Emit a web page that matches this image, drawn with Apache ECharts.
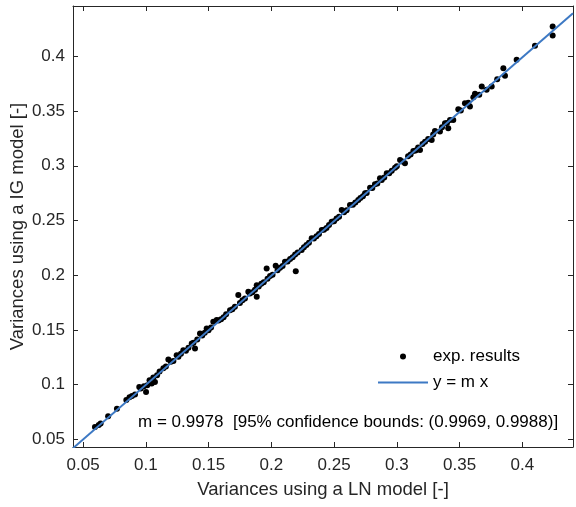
<!DOCTYPE html>
<html>
<head>
<meta charset="utf-8">
<script src="https://cdn.jsdelivr.net/npm/echarts@6/dist/echarts.min.js"></script>
<style>html,body{margin:0;padding:0;background:#fff;}#chart{width:576px;height:507px;}</style>
</head>
<body>
<div id="chart"></div>
<script>
// Measured points: x = LN-model variance, y = IG-model variance
const pointsX = [
 0.0595,0.0625,0.0640,0.0700,0.0770,0.0845,0.0870,0.0890,0.0914,0.0948,0.0960,0.0985,0.1002,0.1012,0.1030,0.1047,0.1060,0.1073,0.1090,
 0.1110,0.1140,0.1160,0.1180,0.1200,0.1220,0.1246,0.1260,0.1280,0.1299,0.1320,0.1340,0.1366,0.1380,0.1392,0.1410,0.1432,0.1450,0.1470,0.1485,0.1500,0.1520,0.1538,
 0.1565,0.1580,0.1600,0.1620,0.1640,0.1671,0.1690,0.1710,0.1737,0.1750,0.1770,0.1790,0.1817,0.1830,0.1850,0.1870,0.1884,0.1884,0.1900,0.1920,0.1940,0.1963,0.1970,0.1990,
 0.2010,0.2035,0.2050,0.2070,0.2090,0.2109,0.2130,0.2150,0.2170,0.2195,0.2190,0.2210,0.2242,0.2260,0.2280,0.2300,0.2322,0.2340,0.2360,0.2380,0.2402,0.2420,0.2440,0.2460,0.2481,0.2500,0.2520,0.2540,
 0.2561,0.2580,0.2600,0.2627,0.2650,0.2670,0.2693,0.2710,0.2730,0.2747,0.2760,0.2787,0.2805,0.2826,0.2845,0.2866,0.2880,0.2900,0.2920,0.2940,0.2960,0.2986,0.3000,0.3026,0.3045,0.3065,0.3090,0.3110,0.3132,0.3150,0.3170,0.3185,0.3205,0.3225,0.3250,0.3278,0.3290,0.3304,0.3344,0.3360,0.3384,0.3400,0.3410,0.3424,0.3450,
 0.3490,0.3510,0.3543,0.3570,0.3583,0.3610,0.3623,0.3657,0.3677,0.3716,0.3756,0.3800,0.3849,0.3862,0.3955,0.4101,0.4242,0.4242
];
const pointsY = [
 0.0613,0.0630,0.0645,0.0710,0.0780,0.0860,0.0885,0.0895,0.0910,0.0979,0.0965,0.0985,0.0933,0.0994,0.1040,0.1010,0.1065,0.1025,0.1085,
 0.1120,0.1150,0.1165,0.1230,0.1210,0.1215,0.1269,0.1255,0.1282,0.1315,0.1310,0.1338,0.1376,0.1383,0.1330,0.1412,0.1467,0.1448,0.1473,0.1513,0.1497,0.1523,0.1574,
 0.1590,0.1585,0.1597,0.1616,0.1643,0.1680,0.1688,0.1712,0.1818,0.1746,0.1772,0.1786,0.1848,0.1833,0.1845,0.1866,0.1802,0.1909,0.1897,0.1921,0.1936,0.2062,0.1967,0.1992,
 0.2005,0.2086,0.2046,0.2068,0.2085,0.2123,0.2126,0.2148,0.2163,0.2037,0.2188,0.2207,0.2230,0.2256,0.2275,0.2296,0.2337,0.2336,0.2355,0.2377,0.2413,0.2416,0.2432,0.2458,0.2489,0.2492,0.2518,0.2535,
 0.2596,0.2575,0.2594,0.2641,0.2643,0.2664,0.2687,0.2706,0.2722,0.2748,0.2752,0.2800,0.2797,0.2831,0.2838,0.2886,0.2870,0.2893,0.2931,0.2932,0.2954,0.2983,0.2995,0.3053,0.3038,0.3023,0.3086,0.3102,0.3135,0.3140,0.3166,0.3145,0.3198,0.3220,0.3244,0.3236,0.3285,0.3318,0.3312,0.3352,0.3389,0.3390,0.3343,0.3419,0.3419,
 0.3517,0.3505,0.3572,0.3577,0.3541,0.3627,0.3657,0.3648,0.3724,0.3694,0.3724,0.3790,0.3892,0.3822,0.3968,0.4096,0.4273,0.4190
];
const slopeM = 0.9978;
const xTicks = [0.05,0.1,0.15,0.2,0.25,0.3,0.35,0.4];
const yTicks = [0.05,0.1,0.15,0.2,0.25,0.3,0.35,0.4];
const xLimits = [0.042, 0.4404];
const yLimits = [0.043, 0.446];
const annotation = 'm = 0.9978  [95% confidence bounds: (0.9969, 0.9988)]';

const scatterData = pointsX.map((x,i)=>[x, pointsY[i]]);
const fitData = xLimits.map(x=>[x, slopeM*x]);

const axisCol = '#262626';
const lineCol = '#3d79c4';
const font = 'Liberation Sans, Arial, sans-serif';
const fmt = v => String(+v.toFixed(3));

function xAxisDef(pos, show){
  return {
    type:'value', position:pos, min:xLimits[0], max:xLimits[1],
    name: show ? 'Variances using a LN model [-]' : '',
    nameLocation:'middle', nameGap:33, nameMoveOverlap:false,
    nameTextStyle:{color:axisCol,fontSize:18.5,fontFamily:font},
    axisLine:{show:true,onZero:false,lineStyle:{color:axisCol,width:1}},
    axisTick:{show:true,inside:true,length:5,customValues:xTicks,lineStyle:{color:axisCol}},
    axisLabel:{show:show,customValues:xTicks,formatter:fmt,color:axisCol,fontSize:17,fontFamily:font,margin:10},
    splitLine:{show:false}
  };
}
function yAxisDef(pos, show){
  return {
    type:'value', position:pos, min:yLimits[0], max:yLimits[1],
    name: show ? 'Variances using a IG model [-]' : '',
    nameLocation:'middle', nameGap:46, nameMoveOverlap:false,
    nameTextStyle:{color:axisCol,fontSize:18.5,fontFamily:font},
    axisLine:{show:true,onZero:false,lineStyle:{color:axisCol,width:1}},
    axisTick:{show:true,inside:true,length:5,customValues:yTicks,lineStyle:{color:axisCol}},
    axisLabel:{show:show,customValues:yTicks,formatter:fmt,color:axisCol,fontSize:17,fontFamily:font,margin:8},
    splitLine:{show:false}
  };
}

const chart = echarts.init(document.getElementById('chart'), null, {renderer:'canvas'});
chart.setOption({
  animation:false,
  backgroundColor:'#ffffff',
  grid:{left:73,right:3,top:6,bottom:60,containLabel:false,outerBoundsMode:'none'},
  xAxis:[xAxisDef('bottom',true), xAxisDef('top',false)],
  yAxis:[yAxisDef('left',true), yAxisDef('right',false)],
  legend:{
    orient:'vertical', left:378, top:348, padding:0, itemWidth:50, itemHeight:6, itemGap:9,
    textStyle:{color:'#000',fontSize:17,fontFamily:font},
    data:[
      {name:'exp. results',icon:'circle'},
      {name:'y = m x',icon:'path://M0,0 L50,0 L50,2 L0,2 Z'}
    ]
  },
  graphic:[{
    type:'text', left:138, top:414,
    style:{text:annotation, fill:'#000', fontSize:17, fontFamily:font}
  }],
  series:[
    {name:'exp. results', type:'scatter', data:scatterData, symbol:'circle', symbolSize:6,
     itemStyle:{color:'#000',opacity:1}, xAxisIndex:0, yAxisIndex:0},
    {name:'y = m x', type:'line', data:fitData, showSymbol:false, symbol:'none',
     lineStyle:{color:lineCol,width:2}, itemStyle:{color:lineCol}, xAxisIndex:0, yAxisIndex:0, z:3}
  ]
});
</script>
</body>
</html>
